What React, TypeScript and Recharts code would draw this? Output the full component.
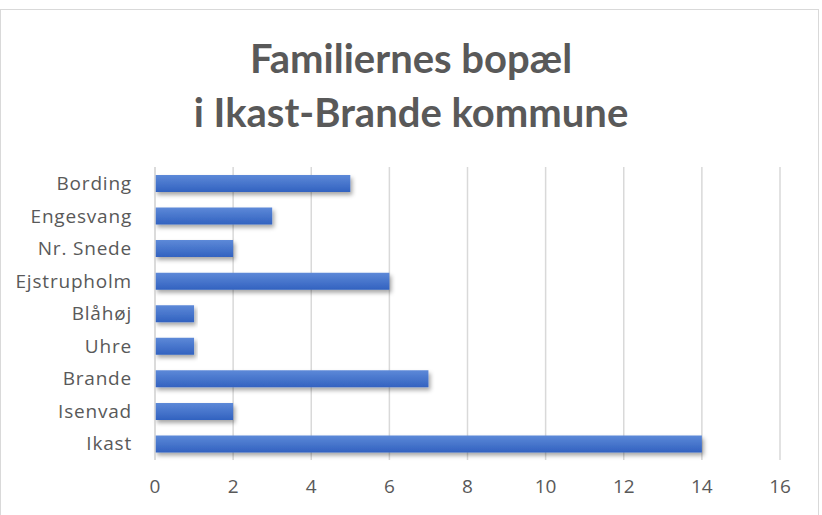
import { Bar, BarChart, CartesianGrid, XAxis, YAxis } from 'recharts'

const places = ['Bording', 'Engesvang', 'Nr. Snede', 'Ejstrupholm', 'Blåhøj', 'Uhre', 'Brande', 'Isenvad', 'Ikast']
const families = [5, 3, 2, 6, 1, 1, 7, 2, 14]
const xTicks = [0, 2, 4, 6, 8, 10, 12, 14, 16]

const TITLE_FONT = 'Lato, "Open Sans", sans-serif'
const FONT = '"Open Sans", Lato, sans-serif'
const TEXT = '#595959'

const data = places.map((place, i) => ({ place, count: families[i] }))

export default function App() {
  return (
    <div style={{ position: 'absolute', left: 0, top: 0, width: 822, height: 515, background: '#fff', overflow: 'hidden' }}>
      <svg width={0} height={0} style={{ position: 'absolute' }}>
        <defs>
          <linearGradient id="barFill" x1="0" y1="0" x2="0" y2="1">
            <stop offset="0%" stopColor="#5d89d8" />
            <stop offset="100%" stopColor="#3262c0" />
          </linearGradient>
          <filter id="barShadow" x="-10%" y="-30%" width="120%" height="180%">
            <feDropShadow dx="2" dy="3" stdDeviation="2" floodColor="#000" floodOpacity="0.35" />
          </filter>
        </defs>
      </svg>
      <div
        style={{
          position: 'absolute',
          left: 0,
          top: 9,
          width: 819,
          height: 520,
          border: '1px solid #d9d9d9',
          boxSizing: 'border-box',
        }}
      />
      <div
        style={{
          position: 'absolute',
          left: 0,
          top: 31,
          width: 822,
          textAlign: 'center',
          fontFamily: TITLE_FONT,
          fontWeight: 700,
          fontSize: 40,
          lineHeight: '54px',
          color: TEXT,
        }}
      >
        Familiernes bopæl
        <br />i Ikast-Brande kommune
      </div>
      <div style={{ position: 'absolute', left: 0, top: 0 }}>
        <BarChart
          width={822}
          height={515}
          data={data}
          layout="vertical"
          margin={{ top: 167, right: 42, bottom: 0, left: 0 }}
          barCategoryGap="24%"
        >
          <CartesianGrid horizontal={false} stroke="#d9d9d9" strokeWidth={1.5} />
          <XAxis
            type="number"
            domain={[0, 16]}
            ticks={xTicks}
            axisLine={false}
            tickLine={false}
            tickSize={0}
            tickMargin={20}
            height={55}
            tick={{ fill: TEXT, fontSize: 19, fontFamily: FONT }}
          />
          <YAxis
            type="category"
            dataKey="place"
            width={155}
            axisLine={{ stroke: '#d9d9d9', strokeWidth: 1.5 }}
            tickLine={false}
            tickSize={0}
            tickMargin={23}
            tick={{ fill: TEXT, fontSize: 19, fontFamily: FONT, letterSpacing: 0.8 }}
          />
          <Bar
            dataKey="count"
            fill="url(#barFill)"
            filter="url(#barShadow)"
            barSize={17}
            isAnimationActive={false}
          />
        </BarChart>
      </div>
    </div>
  )
}
